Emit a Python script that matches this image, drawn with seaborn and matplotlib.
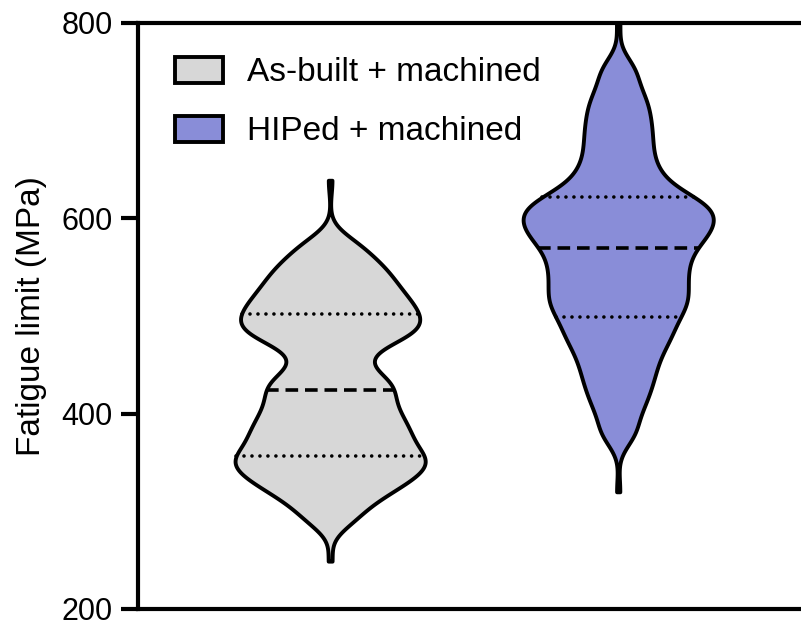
import numpy as np
import pandas as pd
import matplotlib
matplotlib.use("Agg")
import matplotlib.pyplot as plt
import seaborn as sns
from matplotlib.patches import Patch

# ---- data ----
groups = ["As-built + machined", "HIPed + machined"]
fill_colors = ["#d7d7d7", "#898dd8"]
as_built = [249, 291, 307, 317, 325, 331, 337, 342, 347, 353, 355, 360, 368,
            373, 379, 385, 391, 398, 405, 412, 421, 428, 434, 443, 458, 471,
            478, 483, 488, 493, 498, 504, 509, 515, 521, 528, 535, 543, 551,
            561, 575, 639]
as_built_counts = [1, 8, 8, 8, 8, 8, 8, 8, 8, 8, 8, 8, 8,
                   8, 8, 8, 8, 8, 8, 8, 8, 8, 8, 8, 8, 8,
                   8, 8, 8, 8, 8, 8, 8, 8, 8, 8, 8, 8, 8,
                   8, 8, 1]
hiped = [320, 380, 404, 421, 435, 448, 460, 471, 480, 488, 497, 506, 511, 518,
         525, 532, 539, 546, 553, 560, 566, 574, 579, 584, 589, 594, 599, 604,
         609, 614, 617, 623, 633, 643, 655, 669, 683, 697, 712, 728, 752, 800]
hiped_counts = [1, 8, 8, 8, 8, 8, 8, 8, 8, 8, 8, 8, 8, 8,
                8, 8, 8, 8, 8, 8, 8, 8, 8, 8, 8, 8, 8, 8,
                8, 8, 8, 8, 8, 8, 8, 8, 8, 8, 8, 8, 8, 1]
y_ticks = [200, 400, 600, 800]
y_label = "Fatigue limit (MPa)"

df = pd.DataFrame({
    "group": [groups[0]] * sum(as_built_counts) + [groups[1]] * sum(hiped_counts),
    "value": np.concatenate([np.repeat(as_built, as_built_counts),
                             np.repeat(hiped, hiped_counts)]),
})

sns.set_style("white")
plt.rcParams["font.family"] = ["Liberation Sans", "DejaVu Sans"]
plt.rcParams["text.color"] = "black"
plt.rcParams["axes.labelcolor"] = "black"
plt.rcParams["ytick.color"] = "black"

fig = plt.figure(figsize=(8.01, 6.23), dpi=100)
ax = fig.add_axes([138 / 801, 1 - 609 / 623, 0.848, (609 - 23) / 623])

sns.violinplot(data=df, x="group", y="value", hue="group", order=groups,
               hue_order=groups, palette=fill_colors, saturation=1,
               inner="quart", cut=0, bw_method=0.165, bw_adjust=1,
               density_norm="width", width=0.66, linewidth=2.8,
               linecolor="black", gridsize=400,
               inner_kws=dict(linewidth=2.6, color="black"), legend=False,
               ax=ax)

for i, ln in enumerate(ax.lines):
    if i % 3 == 1:
        ln.set_linestyle((0, (3.5, 1.9)))
        ln.set_linewidth(2.6)
        ln.set_dash_capstyle("butt")
    else:
        ln.set_linestyle((0, (0.01, 2.2)))
        ln.set_linewidth(2.6)
        ln.set_dash_capstyle("round")

ax.set_xlim(-0.667, 1.691)
ax.set_ylim(200, 800)
ax.set_yticks(y_ticks)
ax.set_yticklabels([str(t) for t in y_ticks])
ax.set_xticks([])
ax.set_xlabel("")
ax.set_ylabel(y_label, fontsize=24)
ax.yaxis.set_label_coords(-0.134, 0.5)
ax.tick_params(axis="y", direction="out", length=12, width=3.0, pad=6,
               labelsize=22, left=True, colors="black")
for s in ["top", "bottom", "left", "right"]:
    ax.spines[s].set_linewidth(3.0)
    ax.spines[s].set_color("black")

handles = [Patch(facecolor=c, edgecolor="black", linewidth=2.8) for c in fill_colors]
fig.legend(handles, groups, loc="upper left",
           bbox_to_anchor=(175 / 801, 1 - 57 / 623),
           bbox_transform=fig.transFigure, frameon=False, fontsize=24,
           handlelength=1.44, handleheight=0.8, handletextpad=0.72,
           labelspacing=0.83, borderpad=0, borderaxespad=0)

fig.savefig("out.png", dpi=100)
